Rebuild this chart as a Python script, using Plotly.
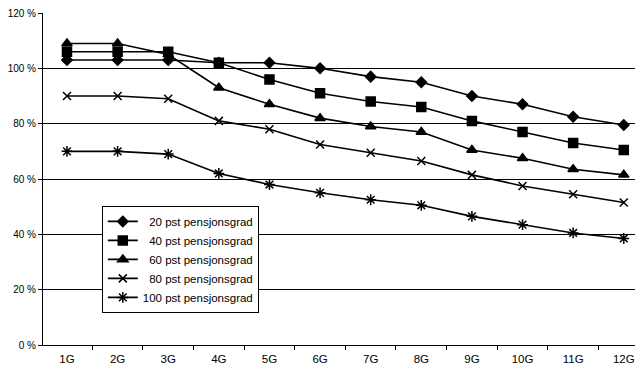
import plotly.graph_objects as go

categories = ["1G", "2G", "3G", "4G", "5G", "6G", "7G", "8G", "9G", "10G", "11G", "12G"]

pst20 = [103, 103, 103, 102, 102, 100, 97, 95, 90, 87, 82.5, 79.5]
pst40 = [106, 106, 106, 102, 96, 91, 88, 86, 81, 77, 73, 70.5]
pst60 = [109, 109, 105, 93, 87, 82, 79, 77, 70.5, 67.5, 63.5, 61.5]
pst80 = [90, 90, 89, 81, 78, 72.5, 69.5, 66.5, 61.5, 57.5, 54.5, 51.5]
pst100 = [70, 70, 69, 62, 58, 55, 52.5, 50.5, 46.5, 43.5, 40.5, 38.5]

series_names = ["20 pst pensjonsgrad", "40 pst pensjonsgrad", "60 pst pensjonsgrad",
                "80 pst pensjonsgrad", "100 pst pensjonsgrad"]
series_values = [pst20, pst40, pst60, pst80, pst100]
symbols = ["diamond", "square", "triangle-up", "x-thin-open", "asterisk-open"]
sizes = [8, 9, 9, 8, 9]
name_pad = ["\u00a0\u00a0", "\u00a0\u00a0", "\u00a0\u00a0", "\u00a0\u00a0", ""]

y_ticks = [0, 20, 40, 60, 80, 100, 120]
y_labels = ["0 %", "20 %", "40 %", "60 %", "80 %", "100 %", "120 %"]

fig = go.Figure()
for name, vals, sym, sz, pad in zip(series_names, series_values, symbols, sizes, name_pad):
    fig.add_trace(go.Scatter(
        x=categories, y=vals, name=pad + name, mode="lines+markers",
        line=dict(color="black", width=1.6),
        marker=dict(symbol=sym, size=sz, color="black",
                    line=dict(color="black", width=1.5)),
    ))

fig.update_layout(
    width=635, height=368,
    margin=dict(l=35, r=0, t=5, b=31),
    paper_bgcolor="white", plot_bgcolor="white",
    font=dict(family="Liberation Sans, Arial, sans-serif", size=11, color="black"),
    showlegend=True,
    legend=dict(x=0.098, y=0.419, xanchor="left", yanchor="top",
                bgcolor="white", bordercolor="black", borderwidth=1,
                font=dict(size=11.5), tracegroupgap=0, itemwidth=30),
    xaxis=dict(type="category", range=[-0.474, 11.38], showgrid=False,
               showline=True, linecolor="black", linewidth=1,
               ticks="outside", ticklen=4, tickcolor="black", tickson="boundaries",
               ticklabelstandoff=3,
               zeroline=False, automargin=False, tickfont=dict(size=11.5)),
    yaxis=dict(range=[0, 120], tickvals=y_ticks, ticktext=y_labels,
               showgrid=True, gridcolor="black", gridwidth=1,
               showline=True, linecolor="black", linewidth=1,
               ticks="outside", ticklen=4, tickcolor="black",
               zeroline=False, automargin=False, ticklabeloverflow="allow",
               tickfont=dict(size=10)),
)

fig.write_html("out.html")
